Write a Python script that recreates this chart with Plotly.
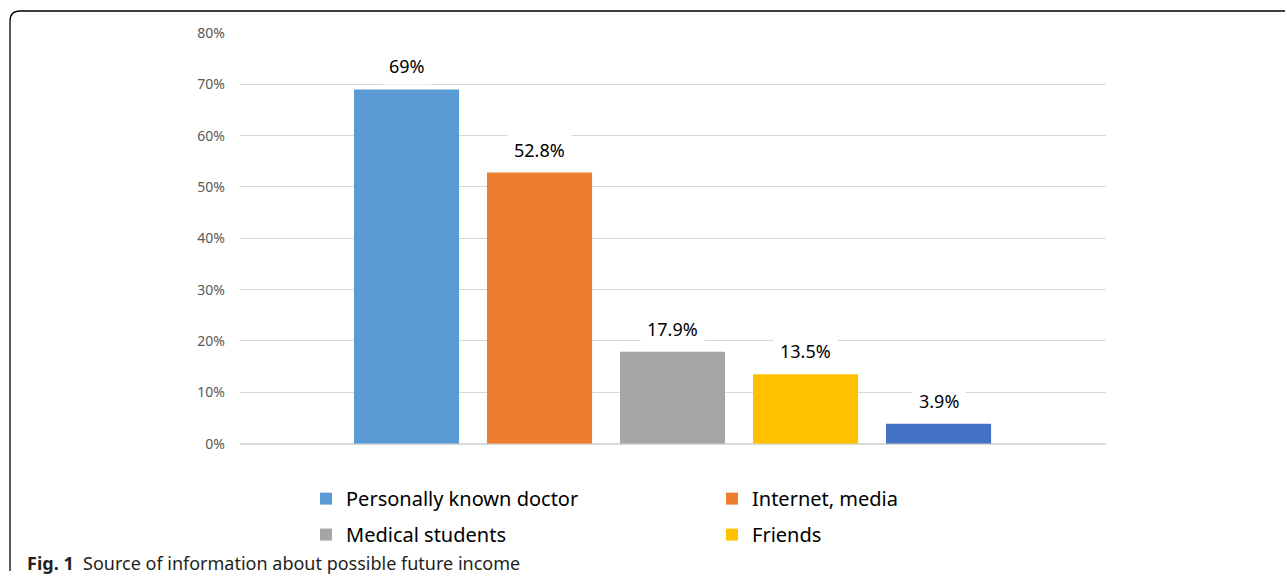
import plotly.graph_objects as go

categories = ["Personally known doctor", "Internet, media", "Medical students", "Friends", "Other"]
values = [69.0, 52.8, 17.9, 13.5, 3.9]
labels = ["69%", "52.8%", "17.9%", "13.5%", "3.9%"]
colors = ["#5B9BD5", "#ED7D31", "#A5A5A5", "#FFC000", "#4472C4"]
legend_row = ["legend", "legend", "legend2", "legend2", None]
tick_vals = [0, 10, 20, 30, 40, 50, 60, 70, 80]
tick_text = ["0%", "10%", "20%", "30%", "40%", "50%", "60%", "70%", "80%"]

W, H = 1287, 580
FONT = "Noto Sans"


def Y(ref_y):
    # vertical pixel position (from top) in the layout for a target position
    return (ref_y - 9) / 0.968


def px(x):
    return x / W


def py(ref_y):
    return 1 - Y(ref_y) / H


fig = go.Figure()
for i, (c, v, col, lg) in enumerate(zip(categories, values, colors, legend_row)):
    kw = dict(showlegend=lg is not None)
    if lg is not None:
        kw["legend"] = lg
    fig.add_trace(go.Bar(x=[i], y=[v], name=c, marker=dict(color=col, line=dict(width=0)),
                         width=0.79, hoverinfo="skip", **kw))

annotations = []
for i, (v, t) in enumerate(zip(values, labels)):
    annotations.append(dict(x=i, y=v, xref="x", yref="y", text=t, showarrow=False,
                            yanchor="middle", yshift=23, bgcolor="white", borderpad=6,
                            font=dict(family=FONT, size=18, color="#000000")))

annotations.append(dict(x=25 / W, y=py(562), xref="paper", yref="paper", xanchor="left",
                        yanchor="middle", showarrow=False,
                        text="<b>Fig. 1</b>  Source of information about possible future income",
                        font=dict(family=FONT, size=18, color="#231f20")))

r = 10
path = (f"M {px(10)},0 L {px(10)},{py(10 + r)} Q {px(10)},{py(10)} {px(10 + r)},{py(10)} "
        f"L {px(1285)},{py(10)}")

legend_common = dict(orientation="h", xanchor="left", yanchor="middle",
                     entrywidth=361, entrywidthmode="pixels",
                     font=dict(family=FONT, size=20, color="#000000"), bgcolor="rgba(0,0,0,0)")

fig.update_layout(
    width=W, height=H,
    margin=dict(l=0, r=0, t=0, b=0),
    paper_bgcolor="white", plot_bgcolor="white",
    barmode="overlay",
    xaxis=dict(domain=[240 / W, 1106 / W], range=[-1.252, 5.259], showticklabels=False,
               showgrid=False, zeroline=False, showline=False, fixedrange=True),
    yaxis=dict(domain=[py(443), py(32)], range=[0, 80], tickvals=tick_vals, ticktext=tick_text,
               showgrid=True, gridcolor="#D9D9D9", gridwidth=1, zeroline=True, zerolinecolor="#D9D9D9",
               zerolinewidth=1.5, showline=False, ticks="", ticklabelstandoff=14,
               tickfont=dict(family=FONT, size=14, color="#595959")),
    legend=dict(x=306 / W, y=py(498), **legend_common),
    legend2=dict(x=306 / W, y=py(534), **legend_common),
    annotations=annotations,
    shapes=[dict(type="path", path=path, xref="paper", yref="paper",
                 line=dict(color="#000000", width=1.3))],
)

fig.write_html("out.html", config={"displayModeBar": False},
               post_script="document.body.style.margin='0';document.body.style.padding='0';"
                           "var d=document.getElementsByClassName('plotly-graph-div')[0];"
                           "d.style.position='fixed';d.style.top='0px';d.style.left='0px';")
